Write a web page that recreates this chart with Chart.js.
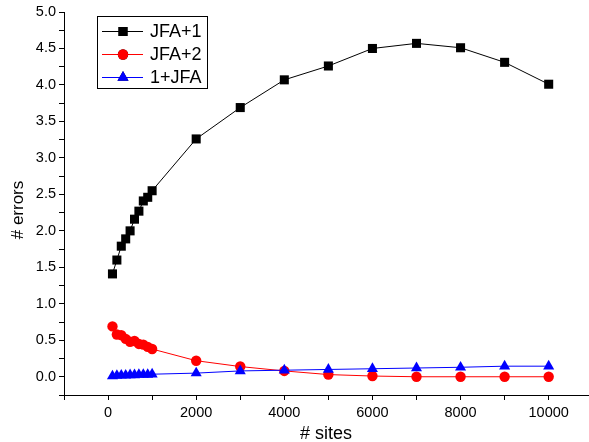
<!DOCTYPE html>
<html>
<head>
<meta charset="utf-8">
<script src="https://cdn.jsdelivr.net/npm/chart.js@4.4.0/dist/chart.umd.min.js"></script>
<style>
  html, body { margin: 0; padding: 0; background: #fff; }
  #wrap { width: 589px; height: 442px; position: relative; }
</style>
</head>
<body>
<div id="wrap"><canvas id="grafica" width="589" height="442"></canvas></div>
<script>
// Datos
const sitios = [100, 200, 300, 400, 500, 600, 700, 800, 900, 1000,
                2000, 3000, 4000, 5000, 6000, 7000, 8000, 9000, 10000];
const jfaMas1 = [1.41, 1.60, 1.79, 1.89, 2.00, 2.16, 2.27, 2.41, 2.46, 2.55,
                 3.26, 3.69, 4.07, 4.26, 4.50, 4.57, 4.51, 4.31, 4.01];
const jfaMas2 = [0.69, 0.58, 0.57, 0.52, 0.48, 0.49, 0.45, 0.44, 0.41, 0.38,
                 0.22, 0.14, 0.08, 0.03, 0.01, 0.00, 0.00, 0.00, 0.00];
const unoJfa = [0.01, 0.015, 0.02, 0.02, 0.025, 0.025, 0.03, 0.03, 0.03, 0.035,
                0.05, 0.08, 0.09, 0.10, 0.11, 0.12, 0.13, 0.145, 0.145];
const etiquetasSerie = ['JFA+1', 'JFA+2', '1+JFA'];
const xTicks = [-1000, 0, 1000, 2000, 3000, 4000, 5000, 6000, 7000, 8000, 9000, 10000];
const yTicks = [-0.25, 0, 0.25, 0.5, 0.75, 1, 1.25, 1.5, 1.75, 2, 2.25, 2.5,
                2.75, 3, 3.25, 3.5, 3.75, 4, 4.25, 4.5, 4.75, 5];
const tituloX = '# sites';
const tituloY = '# errors';

const fuente = "'Liberation Sans', Arial, sans-serif";

function puntos(valores) {
    return sitios.map((s, i) => ({ x: s, y: valores[i] }));
}

const series = [
    { label: etiquetasSerie[0], data: puntos(jfaMas1), color: '#000000', estilo: 'rect', radio: 6.4, order: 2 },
    { label: etiquetasSerie[1], data: puntos(jfaMas2), color: '#ff0000', estilo: 'circle', radio: 5.2, order: 1 },
    { label: etiquetasSerie[2], data: puntos(unoJfa), color: '#0000ff', estilo: 'triangle', radio: 6.4, order: 0 }
];

// Leyenda y titulos de ejes dibujados a mano
const leyenda = {
    id: 'leyendaCaja',
    afterDraw(chart) {
        const ctx = chart.ctx;
        ctx.save();
        ctx.strokeStyle = '#000';
        ctx.lineWidth = 1;
        ctx.strokeRect(97.5, 16.5, 110, 72);
        const filas = [31.5, 54.5, 77.5];
        series.forEach((s, i) => {
            const y = filas[i];
            ctx.strokeStyle = s.color;
            ctx.lineWidth = 1;
            ctx.beginPath();
            ctx.moveTo(102, y);
            ctx.lineTo(143, y);
            ctx.stroke();
            Chart.helpers.drawPoint(ctx, {
                pointStyle: s.estilo, radius: s.radio, borderWidth: 0, rotation: 0
            }, 123, y);
            ctx.fillStyle = s.color;
            ctx.fill();
            ctx.fillStyle = '#000';
            ctx.font = '18px ' + fuente;
            ctx.textBaseline = 'middle';
            ctx.textAlign = 'left';
            ctx.fillText(s.label, 150, y + 1);
        });

        // titulos
        ctx.fillStyle = '#000';
        ctx.font = '18px ' + fuente;
        ctx.textAlign = 'center';
        ctx.textBaseline = 'middle';
        ctx.fillText(tituloX, 326, 434);
        ctx.translate(18, 210);
        ctx.rotate(-Math.PI / 2);
        ctx.font = '17px ' + fuente;
        ctx.fillText(tituloY, 0, 0);
        ctx.restore();
    }
};

const ctx = document.getElementById('grafica').getContext('2d');
new Chart(ctx, {
    type: 'line',
    data: {
        datasets: series.map(s => ({
            label: s.label,
            data: s.data,
            borderColor: s.color,
            backgroundColor: s.color,
            borderWidth: 1,
            pointStyle: s.estilo,
            pointRadius: s.radio,
            pointBorderWidth: 0,
            pointBackgroundColor: s.color,
            order: s.order,
            tension: 0
        }))
    },
    options: {
        responsive: false,
        animation: false,
        devicePixelRatio: 1,
        layout: { padding: { top: 12, right: 0, left: 0, bottom: 0 }, autoPadding: false },
        plugins: {
            legend: { display: false },
            tooltip: { enabled: false }
        },
        scales: {
            x: {
                type: 'linear',
                min: -1000,
                max: 10915,
                afterBuildTicks: scale => { scale.ticks = xTicks.map(v => ({ value: v })); },
                afterFit: scale => { scale.height = 47; },
                grid: { drawOnChartArea: false, drawTicks: true, tickLength: 5, color: '#000', tickWidth: 1 },
                border: { display: true, color: '#000', width: 1 },
                ticks: {
                    color: '#000',
                    padding: 4,
                    maxRotation: 0,
                    autoSkip: false,
                    font: { family: fuente, size: 14.5 },
                    callback: v => (v >= 0 && v % 2000 === 0) ? String(v) : ''
                },
                title: { display: false }
            },
            y: {
                type: 'linear',
                min: -0.25,
                max: 5,
                afterBuildTicks: scale => { scale.ticks = yTicks.map(v => ({ value: v })); },
                afterFit: scale => { scale.width = 64; },
                grid: { drawOnChartArea: false, drawTicks: true, tickLength: 5, color: '#000', tickWidth: 1 },
                border: { display: true, color: '#000', width: 1 },
                ticks: {
                    color: '#000',
                    padding: 3,
                    autoSkip: false,
                    font: { family: fuente, size: 14.5 },
                    callback: v => (v >= 0 && Math.abs(v * 2 - Math.round(v * 2)) < 1e-9) ? v.toFixed(1) : ''
                },
                title: { display: false }
            }
        }
    },
    plugins: [leyenda]
});
</script>
</body>
</html>
